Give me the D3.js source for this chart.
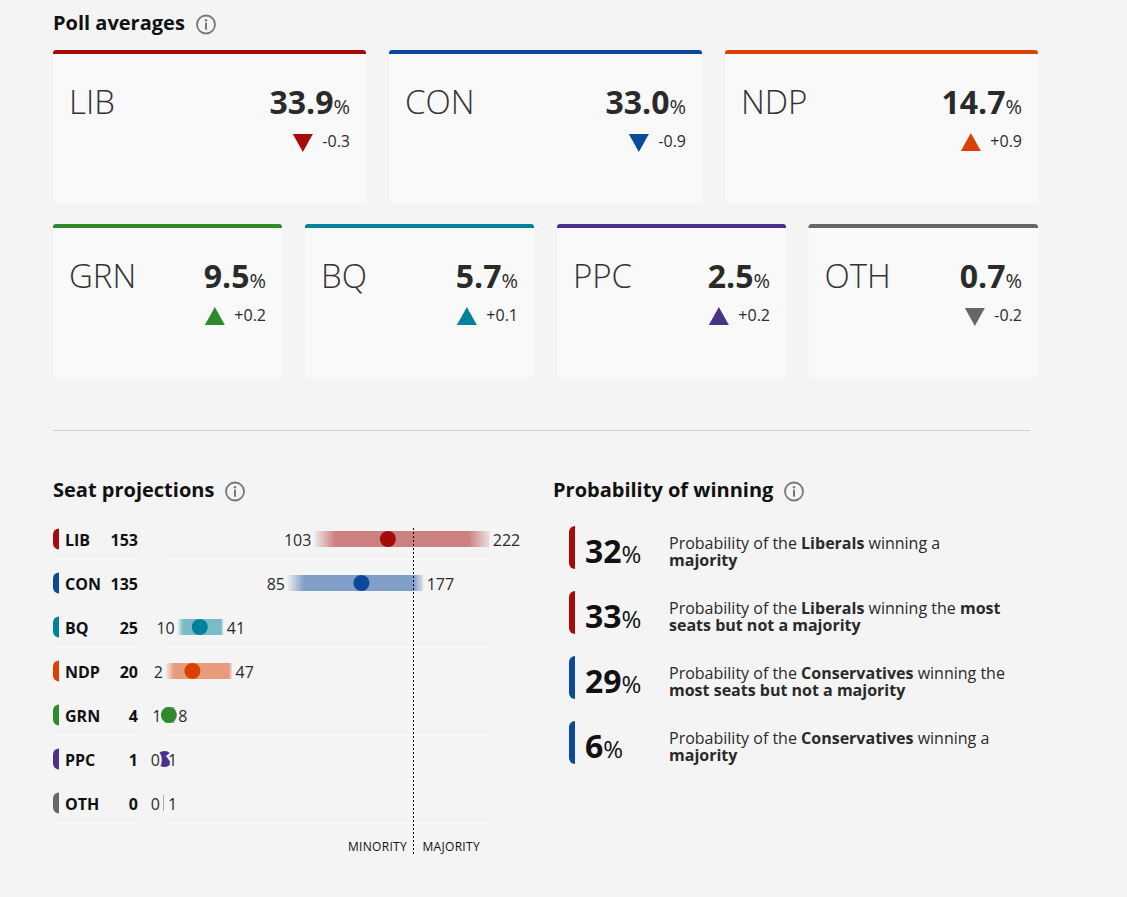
<!DOCTYPE html>
<html>
<head>
<meta charset="utf-8">
<script src="https://cdn.jsdelivr.net/npm/d3@7"></script>
<style>
  html, body { margin: 0; padding: 0; background: #f4f4f4; }
  svg { display: block; font-family: "Open Sans", sans-serif; }
</style>
</head>
<body>
<svg id="chart" width="1127" height="897"></svg>
<script>
// poll averages
var pollParties = ['LIB', 'CON', 'NDP', 'GRN', 'BQ', 'PPC', 'OTH'];
var pollValues = [33.9, 33.0, 14.7, 9.5, 5.7, 2.5, 0.7];
var pollChanges = [-0.3, -0.9, 0.9, 0.2, 0.1, 0.2, -0.2];

// seat projections
var seatParties = ['LIB', 'CON', 'BQ', 'NDP', 'GRN', 'PPC', 'OTH'];
var seatValues = [153, 135, 25, 20, 4, 1, 0];
var seatLows = [103, 85, 10, 2, 1, 0, 0];
var seatHighs = [222, 177, 41, 47, 8, 1, 1];
var majorityLine = 170;

// probability of winning
var probValues = [32, 33, 29, 6];
var probParties = ['LIB', 'LIB', 'CON', 'CON'];
var probLines = [
  [[['Probability of the ', 0], ['Liberals', 1], [' winning a', 0]], [['majority', 1]]],
  [[['Probability of the ', 0], ['Liberals', 1], [' winning the ', 0], ['most', 1]], [['seats but not a majority', 1]]],
  [[['Probability of the ', 0], ['Conservatives', 1], [' winning the', 0]], [['most seats but not a majority', 1]]],
  [[['Probability of the ', 0], ['Conservatives', 1], [' winning a', 0]], [['majority', 1]]]
];

var colors = {
  LIB: '#a50b0b', CON: '#0c499c', NDP: '#db4105', GRN: '#2f8a2b',
  BQ: '#00829b', PPC: '#4a3189', OTH: '#666666'
};
// how far the right end of each range fades, as a share of its width
var rightFade = { LIB: 0.12, CON: 0.07, BQ: 0.05, NDP: 0.05, GRN: 0.05, PPC: 0.05 };

var bg = '#f4f4f4', ink = '#2a2a2a';
var svg = d3.select('#chart');
var defs = svg.append('defs');

function heading(x, y, label, iconX) {
  svg.append('text').attr('x', x).attr('y', y)
    .attr('font-size', 20).attr('font-weight', 700).attr('fill', '#111').text(label);
  var icon = svg.append('g').attr('transform', 'translate(' + iconX + ',' + (y - 5.5) + ')');
  icon.append('circle').attr('r', 9).attr('fill', 'none').attr('stroke', '#777').attr('stroke-width', 1.8);
  icon.append('circle').attr('cy', -4.2).attr('r', 1.2).attr('fill', '#777');
  icon.append('rect').attr('x', -1).attr('y', -1.8).attr('width', 2).attr('height', 7).attr('fill', '#777');
}

// left-rounded tab used beside the seat rows and the probabilities
function tabPath(x, y, w, h) {
  return 'M' + (x + w) + ',' + y + 'A' + w + ' ' + w + ' 0 0 0 ' + x + ',' + (y + w) +
    'V' + (y + h - w) + 'A' + w + ' ' + w + ' 0 0 0 ' + (x + w) + ',' + (y + h) + 'Z';
}

// ---- poll cards
heading(53, 30, 'Poll averages', 206);

var cardBoxes = [
  [53, 50, 313], [389, 50, 313], [725, 50, 313],
  [53, 224, 229], [305, 224, 229], [557, 224, 229], [808.5, 224, 229.5]
];

pollParties.forEach(function (party, i) {
  var box = cardBoxes[i], color = colors[party];
  var g = svg.append('g').attr('transform', 'translate(' + box[0] + ',' + box[1] + ')');
  var right = box[2] - 16;

  g.append('rect').attr('width', box[2]).attr('height', 153.5).attr('rx', 3).attr('fill', '#f9f9f9');
  g.append('path').attr('fill', color)
    .attr('d', 'M0,4V3Q0,0 3,0H' + (box[2] - 3) + 'Q' + box[2] + ',0 ' + box[2] + ',3V4Z');

  g.append('text').attr('x', 16).attr('y', 63.5).attr('font-size', 33).attr('font-weight', 300)
    .attr('fill', '#333').text(party);

  var val = g.append('text').attr('x', right).attr('y', 64).attr('text-anchor', 'end').attr('fill', ink);
  val.append('tspan').attr('font-size', 32).attr('font-weight', 700).text(pollValues[i].toFixed(1));
  val.append('tspan').attr('font-size', 20).attr('font-weight', 400).text('%');

  var change = pollChanges[i];
  var label = (change > 0 ? '+' : '') + change.toFixed(1);
  var changeText = g.append('text').attr('x', right).attr('y', 97).attr('text-anchor', 'end')
    .attr('font-size', 16).attr('font-weight', 400).attr('fill', ink).text(label);

  // triangle sits a fixed gap left of the change label
  var cx = right - changeText.node().getComputedTextLength() - 19.5;
  g.append('path').attr('fill', color).attr('d', change < 0
    ? 'M' + (cx - 10) + ',84H' + (cx + 10) + 'L' + cx + ',102Z'
    : 'M' + (cx - 10) + ',101H' + (cx + 10) + 'L' + cx + ',83Z');
});

svg.append('line').attr('x1', 53).attr('x2', 1030).attr('y1', 430.5).attr('y2', 430.5)
  .attr('stroke', '#cfcfcf');

// ---- seat projections
heading(53, 497, 'Seat projections', 235);

var x = d3.scaleLinear().domain([0, 222]).range([163, 489.3]);
var rowY = d3.scalePoint().domain(seatParties).range([539, 803]);

seatParties.forEach(function (party, i) {
  var cy = rowY(party), color = colors[party];
  var g = svg.append('g');

  g.append('line').attr('x1', 53).attr('x2', 138).attr('y1', cy + 20.5).attr('y2', cy + 20.5).attr('stroke', '#fafafa');
  g.append('line').attr('x1', 163).attr('x2', 490).attr('y1', cy + 20.5).attr('y2', cy + 20.5).attr('stroke', '#fafafa');

  g.append('path').attr('d', tabPath(53, cy - 10.5, 6, 21)).attr('fill', color);
  g.append('text').attr('x', 65).attr('y', cy + 7).attr('font-size', 16).attr('font-weight', 700)
    .attr('fill', '#111').text(party);
  g.append('text').attr('x', 138).attr('y', cy + 7).attr('text-anchor', 'end').attr('font-size', 16)
    .attr('font-weight', 700).attr('fill', '#111').text(seatValues[i]);

  var x0 = x(seatLows[i]), x1 = x(seatHighs[i]);
  if (seatValues[i] > 0) {
    var grad = defs.append('linearGradient').attr('id', 'range-' + party);
    [[0, 0.05], [0.12, 0.5], [1 - rightFade[party], 0.5], [1, 0.1]].forEach(function (stop) {
      grad.append('stop').attr('offset', stop[0]).attr('stop-color', color).attr('stop-opacity', stop[1]);
    });
    g.append('rect').attr('x', x0).attr('y', cy - 8).attr('width', x1 - x0).attr('height', 16)
      .attr('fill', 'url(#range-' + party + ')');
    g.append('circle').attr('cx', x(seatValues[i])).attr('cy', cy).attr('r', 8).attr('fill', color);
  } else {
    g.append('line').attr('x1', x0 + 0.5).attr('x2', x0 + 0.5).attr('y1', cy - 8).attr('y2', cy + 8).attr('stroke', '#aaa');
  }

  [[x0 - 3, 'end', seatLows[i]], [x1 + 3.5, 'start', seatHighs[i]]].forEach(function (lab) {
    g.append('text').attr('x', lab[0]).attr('y', cy + 7).attr('text-anchor', lab[1])
      .attr('font-size', 16).attr('font-weight', 400).attr('fill', ink)
      .attr('stroke', bg).attr('stroke-width', 5).attr('paint-order', 'stroke').text(lab[2]);
  });
});

var majorityX = Math.round(x(majorityLine)) + 0.5;
svg.append('line').attr('x1', majorityX).attr('x2', majorityX).attr('y1', 528).attr('y2', 854)
  .attr('stroke', '#000').attr('stroke-dasharray', '2,2');
svg.append('text').attr('x', majorityX - 6.5).attr('y', 851).attr('text-anchor', 'end')
  .attr('font-size', 12).attr('letter-spacing', 0.3).attr('fill', '#111').text('MINORITY');
svg.append('text').attr('x', majorityX + 9).attr('y', 851)
  .attr('font-size', 12).attr('letter-spacing', 0.3).attr('fill', '#111').text('MAJORITY');

// ---- probability of winning
heading(553, 497, 'Probability of winning', 794);

probValues.forEach(function (value, i) {
  var top = 526 + i * 65;
  var g = svg.append('g');
  g.append('path').attr('d', tabPath(569, top, 6, 43)).attr('fill', colors[probParties[i]]);

  var t = g.append('text').attr('x', 585).attr('y', top + 37).attr('fill', '#111');
  t.append('tspan').attr('font-size', 32).attr('font-weight', 700).text(value);
  t.append('tspan').attr('font-size', 24).attr('font-weight', 400).text('%');

  probLines[i].forEach(function (line, j) {
    var row = g.append('text').attr('x', 669).attr('y', top + 23 + j * 17)
      .attr('font-size', 16).attr('fill', ink);
    line.forEach(function (part) {
      row.append('tspan').attr('font-weight', part[1] ? 700 : 400).text(part[0]);
    });
  });
});
</script>
</body>
</html>
